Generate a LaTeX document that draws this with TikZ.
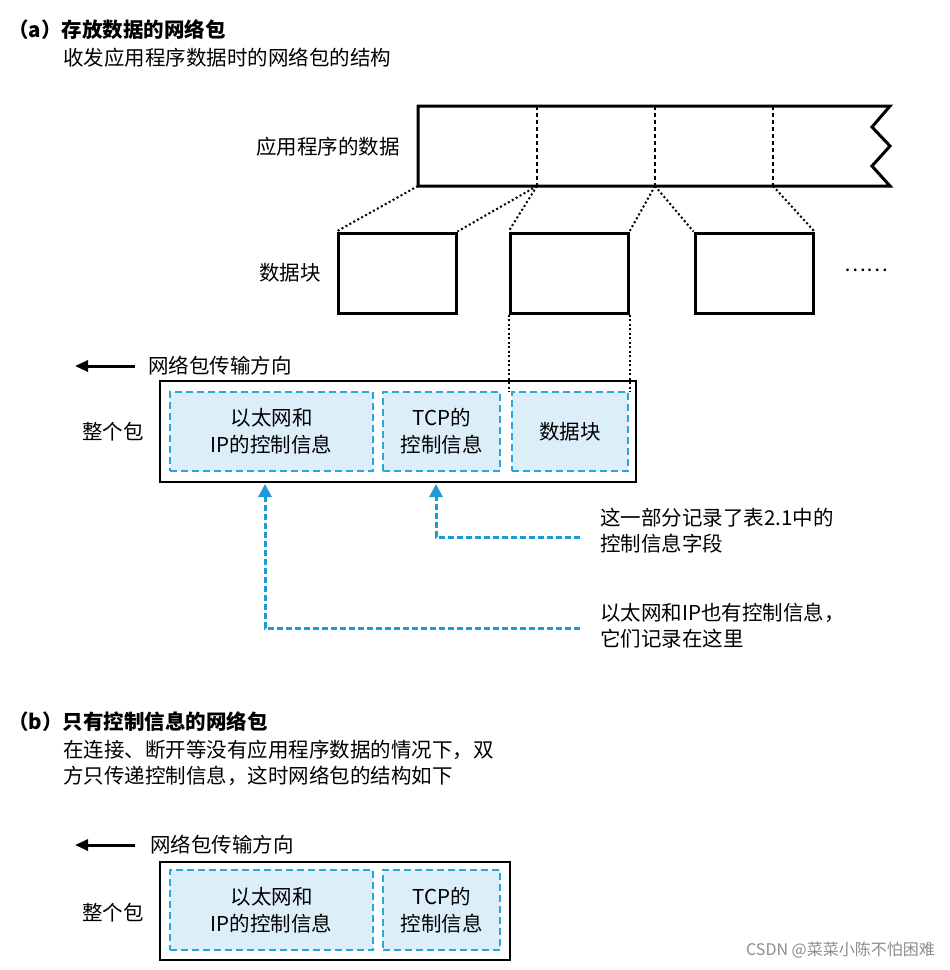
\documentclass[tikz,border=0pt]{standalone}
\usepackage{fontspec}
\setmainfont{Noto Sans CJK SC}
\usetikzlibrary{arrows.meta}
\definecolor{cellb}{HTML}{2AA6DC}
\definecolor{cellf}{HTML}{DCEFF9}
\definecolor{arrb}{HTML}{1E9BD7}
\tikzset{
 txt/.style={font=\fontsize{20.5}{26}\selectfont, inner sep=0pt},
 ttl/.style={font=\fontsize{20.5}{26}\selectfont\bfseries, inner sep=0pt, anchor=west},
 cell/.style={draw=cellb, fill=cellf, line width=1.8pt, dash pattern=on 7pt off 4pt, align=center, font=\fontsize{20.5}{27}\selectfont},
 blk/.style={draw, line width=3pt},
 dots/.style={line width=2pt, dash pattern=on 2pt off 2.5pt},
 ptr/.style={draw=arrb, line width=3pt, dash pattern=on 6pt off 3pt, -{Triangle[length=13pt,width=13pt]}},
 dir/.style={line width=3pt, -{Triangle[length=13pt,width=11pt]}},
 pkt/.style={draw, line width=1.6pt}
}
\begin{document}
\begin{tikzpicture}[x=1pt,y=-1pt]
\useasboundingbox (0,0) rectangle (950,970);
% (a)
\node[ttl] (ta) at (8,30) {（a）存放数据的网络包};
\node[txt,anchor=west] (sa) at (63,58) {收发应用程序数据时的网络包的结构};
\draw[line width=3pt, line join=miter] (890,106) -- (418,106) -- (418,186) -- (890,186) -- (872,166) -- (890,146) -- (872,127) -- cycle;
\coordinate (t0) at (418,186);
\coordinate (t1) at (537,186);
\coordinate (t2) at (655,186);
\coordinate (t3) at (773,186);
\foreach \x in {537,655,773} \draw[line width=1.8pt, dash pattern=on 4pt off 3pt] (\x,106) -- (\x,186);
\node[txt,anchor=east] (app) at (400,147) {应用程序的数据};
\node[blk, minimum width=118pt, minimum height=80pt] (b1) at (397,273) {};
\node[blk, minimum width=118pt, minimum height=80pt] (b2) at (569,273) {};
\node[blk, minimum width=118pt, minimum height=80pt] (b3) at (754,273) {};
\node[txt] (more) at (866,270) {……};
\node[txt] (blab) at (290,273) {数据块};
\draw[dots] (t0) -- (b1.north west);
\draw[dots] (t1) -- (b1.north east);
\draw[dots] (t1) -- (b2.north west);
\draw[dots] (t2) -- (b2.north east);
\draw[dots] (t2) -- (b3.north west);
\draw[dots] (t3) -- (b3.north east);
% packet a
\coordinate (da) at (135,366);
\coordinate (db) at (75,366);
\draw[dir] (da) -- (db);
\node[txt,anchor=west] (dirt) at (148,366) {网络包传输方向};
\node[pkt, minimum width=476pt, minimum height=101pt] (pa) at (398,431.5) {};
\node[cell, minimum width=203pt, minimum height=79pt] (c1) at (271.5,431.5) {以太网和\\IP的控制信息};
\node[cell, minimum width=117pt, minimum height=79pt] (c2) at (441.5,431.5) {TCP的\\控制信息};
\node[cell, minimum width=116pt, minimum height=79pt] (c3) at (570,431.5) {数据块};
\draw[dots] (b2.south west) -- (b2.south west |- c3.north);
\draw[dots] (b2.south east) -- (b2.south east |- c3.north);
\node[txt] (whole) at (113,432) {整个包};
\node[txt,anchor=west,align=left] (n1) at (600,531) {这一部分记录了表2.1中的\\控制信息字段};
\node[txt,anchor=west,align=left] (n2) at (600,626) {以太网和IP也有控制信息，\\它们记录在这里};
\draw[ptr] (580,537) -- (436,537) -- (436,484);
\draw[ptr] (580,628) -- (265,628) -- (265,484);
% (b)
\node[ttl] (tb) at (8,722) {（b）只有控制信息的网络包};
\node[txt,anchor=west,align=left] (sb) at (63,763) {在连接、断开等没有应用程序数据的情况下，双\\方只传递控制信息，这时网络包的结构如下};
\coordinate (ea) at (135,845);
\coordinate (eb) at (75,845);
\draw[dir] (ea) -- (eb);
\node[txt,anchor=west] (dirt2) at (150,845) {网络包传输方向};
\node[pkt, minimum width=350pt, minimum height=98pt] (pb) at (335,911) {};
\node[cell, minimum width=203pt, minimum height=80pt] (d1) at (271.5,910) {以太网和\\IP的控制信息};
\node[cell, minimum width=117pt, minimum height=80pt] (d2) at (441.5,910) {TCP的\\控制信息};
\node[txt] (whole2) at (113,913) {整个包};
\node[txt,anchor=east,text=black!45,font=\fontsize{16}{20}\selectfont] (wm) at (935,950) {CSDN @菜菜小陈不怕困难};
\end{tikzpicture}
\end{document}
